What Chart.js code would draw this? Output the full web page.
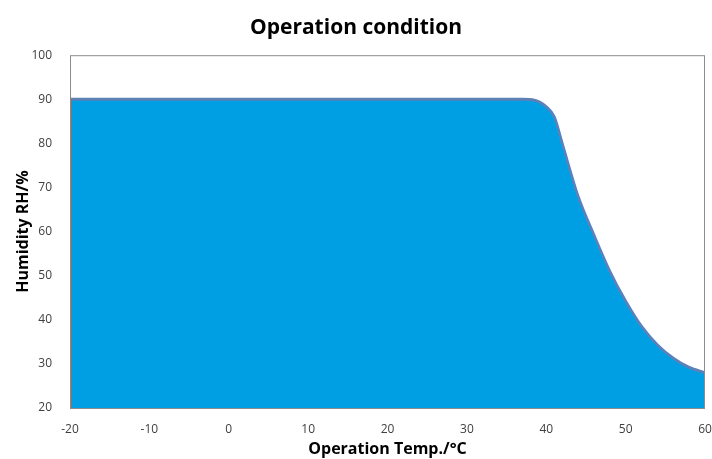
<!DOCTYPE html>
<html>
<head>
<meta charset="utf-8">
<script src="https://cdn.jsdelivr.net/npm/chart.js@4/dist/chart.umd.min.js"></script>
<style>
  html, body { margin: 0; padding: 0; background: #fff; }
  #wrap { width: 712px; height: 459px; }
</style>
</head>
<body>
<div id="wrap"><canvas id="chart"></canvas></div>
<script>
// values
const temps = [-20, -10, 0, 10, 20, 30, 37, 38.5, 40, 41, 42, 44, 46, 48, 50, 52, 54, 56, 58, 60];
const humidity = [90, 90, 90, 90, 90, 90, 90, 89.8, 88.3, 86, 80, 68, 59.2, 51, 44.2, 38.5, 34.3, 31.3, 29.2, 28];
const xTicks = [-20, -10, 0, 10, 20, 30, 40, 50, 60];
const yTicks = [20, 30, 40, 50, 60, 70, 80, 90, 100];

// outline around the plot area
const frame = {
  id: 'frame',
  afterDraw(chart) {
    const a = chart.chartArea;
    const ctx = chart.ctx;
    ctx.save();
    ctx.strokeStyle = '#8c8c8c';
    ctx.lineWidth = 1;
    ctx.strokeRect(a.left + 0.5, a.top + 0.5, a.right - a.left - 1, a.bottom - a.top);
    ctx.restore();
  }
};

const ctx = document.getElementById('chart').getContext('2d');
new Chart(ctx, {
  type: 'line',
  data: {
    datasets: [{
      label: 'Humidity',
      data: temps.map((t, i) => ({ x: t, y: humidity[i] })),
      borderColor: '#5f80b4',
      borderWidth: 3,
      backgroundColor: '#009fe3',
      fill: 'start',
      pointRadius: 0,
      tension: 0.3,
      cubicInterpolationMode: 'monotone'
    }]
  },
  options: {
    responsive: true,
    maintainAspectRatio: false,
    animation: false,
    layout: { padding: { left: 0, right: 0, top: 9, bottom: 0 } },
    plugins: {
      legend: { display: false },
      tooltip: { enabled: false },
      title: {
        display: true,
        text: 'Operation condition',
        color: '#000',
        font: { family: 'Open Sans', size: 21, weight: 'bold' },
        padding: { top: 6, bottom: 15 }
      }
    },
    scales: {
      x: {
        type: 'linear',
        min: -20,
        max: 60,
        afterBuildTicks: s => { s.ticks = xTicks.map(v => ({ value: v })); },
        afterFit: s => { s.height = 51; s.paddingRight = 7; },
        grid: { display: false },
        border: { display: false },
        ticks: { color: '#404040', font: { family: 'Open Sans', size: 12 }, padding: 6, maxRotation: 0 },
        title: {
          display: true,
          text: 'Operation Temp./°C',
          color: '#000',
          font: { family: 'Open Sans', size: 16, weight: 'bold' },
          padding: { top: 0, bottom: 0 }
        }
      },
      y: {
        min: 20,
        max: 100,
        afterBuildTicks: s => { s.ticks = yTicks.map(v => ({ value: v })); },
        afterFit: s => { s.width = 70; },
        grid: { display: false },
        border: { display: false },
        ticks: { color: '#404040', font: { family: 'Open Sans', size: 12 }, padding: 10 },
        title: {
          display: true,
          text: 'Humidity RH/%',
          color: '#000',
          font: { family: 'Open Sans', size: 16, weight: 'bold' },
          padding: { top: 14, bottom: 0 }
        }
      }
    }
  },
  plugins: [frame]
});
</script>
</body>
</html>
